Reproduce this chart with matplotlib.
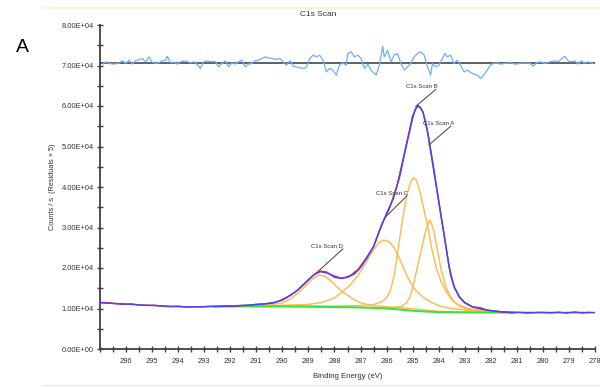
import matplotlib
matplotlib.use("Agg")
import matplotlib.pyplot as plt
from matplotlib.lines import Line2D
from matplotlib.ticker import MultipleLocator, FuncFormatter

plt.rcParams['font.family'] = ['Liberation Sans', 'DejaVu Sans']

# measured spectrum (red)
data_ev = [297.0, 296.7, 296.4, 296.1, 295.8, 295.5, 295.2, 294.9, 294.6, 294.3, 294.0,
           293.7, 293.4, 293.1, 292.8, 292.5, 292.2, 291.9, 291.6, 291.3, 291.0, 290.7,
           290.4, 290.1, 289.8, 289.5, 289.2, 288.9, 288.6, 288.3, 288.0, 287.7, 287.4,
           287.1, 286.8, 286.5, 286.2, 285.9, 285.6, 285.3, 285.0, 284.8, 284.6, 284.4,
           284.2, 284.0, 283.8, 283.6, 283.4, 283.2, 283.0, 282.7, 282.4, 282.1, 281.8,
           281.5, 281.2, 280.9, 280.6, 280.3, 280.0, 279.7, 279.4, 279.1, 278.8, 278.5, 278.2]
data_counts = [11500, 11450, 11200, 11000, 11150, 10850, 10750, 10800, 10550, 10450, 10600,
               10350, 10450, 10400, 10550, 10500, 10650, 10500, 10750, 10800, 11050, 11150,
               11300, 11900, 12900, 14100, 15800, 17700, 19300, 19000, 17700, 17400, 18100,
               19600, 22300, 25300, 30600, 34500, 40300, 48800, 57600, 60300, 58500, 52800,
               45000, 36600, 28400, 20200, 15300, 12900, 11500, 10400, 10200, 9500, 9300,
               9100, 8950, 9050, 8850, 9000, 9050, 8900, 9100, 8850, 9150, 8900, 9050]

# fit envelope (blue)
fit_ev = [297.0, 296.5, 296.0, 295.5, 295.0, 294.5, 294.0, 293.5, 293.0, 292.5, 292.0,
          291.5, 291.0, 290.6, 290.3, 290.0, 289.7, 289.4, 289.1, 288.8, 288.55, 288.3,
          288.0, 287.75, 287.5, 287.25, 287.0, 286.75, 286.5, 286.25, 286.0, 285.75, 285.5,
          285.25, 285.0, 284.9, 284.8, 284.7, 284.6, 284.45, 284.3, 284.15, 284.0, 283.85,
          283.7, 283.55, 283.4, 283.2, 283.0, 282.7, 282.4, 282.0, 281.6, 281.2, 280.5,
          279.5, 278.0]
fit_counts = [11400, 11250, 11100, 10900, 10750, 10600, 10450, 10400, 10450, 10500, 10600,
              10750, 10950, 11200, 11500, 12100, 13200, 14600, 16500, 18300, 19100, 18800,
              18000, 17500, 17700, 18500, 20100, 22500, 25300, 29500, 33500, 37000, 42500,
              50000, 57000, 59200, 59900, 59700, 58400, 54500, 48500, 42500, 36500, 30500,
              24500, 18500, 15200, 12700, 11400, 10400, 9900, 9500, 9200, 9050, 9000,
              9000, 9000]

# components (orange)
a_ev = [292.6, 290.0, 288.0, 286.5, 285.8, 285.45, 285.25, 285.1, 284.95, 284.8, 284.65,
        284.5, 284.34, 284.2, 284.05, 283.9, 283.75, 283.6, 283.4, 283.2, 283.0, 282.6,
        282.0, 281.1]
a_counts = [10550, 10550, 10450, 10250, 10200, 10500, 11300, 12900, 16400, 20800, 25000,
            29300, 31900, 29500, 24500, 19500, 15800, 13500, 11600, 10600, 10000, 9500,
            9200, 9000]

b_ev = [292.6, 290.0, 288.0, 287.0, 286.5, 286.2, 286.0, 285.85, 285.7, 285.55, 285.4,
        285.25, 285.1, 284.97, 284.85, 284.7, 284.55, 284.4, 284.25, 284.1, 283.9, 283.7,
        283.45, 283.2, 282.9, 282.5, 282.0, 281.1]
b_counts = [10600, 10600, 10600, 10750, 11000, 11600, 12600, 14500, 18500, 25000, 31500,
            37200, 40900, 42300, 41600, 38300, 34000, 29500, 24300, 20200, 16500, 14000,
            11800, 10800, 10100, 9600, 9200, 9000]

c_ev = [292.6, 291.0, 290.0, 289.0, 288.5, 288.0, 287.7, 287.4, 287.1, 286.8, 286.5,
        286.3, 286.1, 285.9, 285.7, 285.5, 285.3, 285.1, 284.9, 284.6, 284.3, 284.0,
        283.6, 283.0, 282.5, 282.0, 281.1]
c_counts = [10650, 10700, 10800, 11000, 11500, 12600, 14100, 15800, 18100, 21200, 24500,
            26200, 26900, 26500, 24900, 22300, 19300, 16600, 14600, 12800, 11600, 10700,
            10100, 9600, 9300, 9100, 9000]

d_ev = [292.6, 291.5, 291.0, 290.5, 290.0, 289.7, 289.4, 289.1, 288.85, 288.6, 288.35,
        288.1, 287.85, 287.6, 287.3, 287.0, 286.5, 286.0, 285.0, 284.0, 283.0, 282.0, 281.1]
d_counts = [10550, 10600, 10700, 10900, 11400, 12300, 13800, 15700, 17300, 18300, 17900,
            16600, 15000, 13700, 12400, 11400, 10700, 10450, 9950, 9300, 9100, 9000, 9000]

# Shirley background (green)
bg_ev = [292.6, 291.0, 290.0, 289.0, 288.0, 287.0, 286.5, 286.0, 285.5, 285.0, 284.5,
         284.0, 283.0, 282.0, 281.1]
bg_counts = [10500, 10500, 10500, 10450, 10350, 10250, 10150, 10000, 9750, 9450, 9250,
             9100, 9050, 9000, 9000]

# residuals x5, drawn offset at the zero line
resid_zero = 70500
resid_ev = [296.90, 296.77, 296.65, 296.45, 296.26, 296.14, 296.01, 295.88, 295.76, 295.63,
            295.50, 295.37, 295.25, 295.12, 294.99, 294.87, 294.74, 294.61, 294.48, 294.42,
            294.29, 294.16, 294.04, 293.91, 293.72, 293.53, 293.40, 293.27, 293.15, 293.02,
            292.89, 292.70, 292.58, 292.45, 292.32, 292.19, 292.06, 291.94, 291.81, 291.68,
            291.56, 291.43, 291.30, 291.18, 291.05, 290.92, 290.79, 290.67, 290.60, 290.41,
            290.22, 290.10, 289.97, 289.84, 289.71, 289.58, 289.39, 289.20, 289.08, 288.95,
            288.82, 288.69, 288.57, 288.44, 288.31, 288.19, 288.06, 287.93, 287.81, 287.68,
            287.55, 287.49, 287.36, 287.23, 287.10, 286.98, 286.85, 286.72, 286.60, 286.40,
            286.28, 286.15, 286.09, 285.96, 285.83, 285.71, 285.58, 285.45, 285.32, 285.19,
            285.07, 284.94, 284.81, 284.69, 284.56, 284.43, 284.31, 284.24, 284.11, 283.99,
            283.86, 283.76, 283.67, 283.54, 283.42, 283.29, 283.16, 283.03, 282.90, 282.71,
            282.52, 282.40, 282.27, 282.14, 282.02, 281.89, 281.76, 281.63, 281.44, 281.25,
            281.06, 280.87, 280.68, 280.49, 280.37, 280.24, 280.11, 279.92, 279.73, 279.53,
            279.41, 279.28, 279.15, 279.03, 278.90, 278.78, 278.65, 278.52, 278.40, 278.27,
            278.08]
resid_counts = [70336, 70910, 70500, 70336, 70664, 71156, 70500, 71320, 70336, 71156,
                71484, 71730, 70828, 72140, 70828, 70500, 70664, 71156, 71320, 72304,
                70664, 70828, 70336, 70910, 71156, 70664, 70910, 70336, 69270, 70910,
                71156, 70910, 70992, 69680, 70500, 71156, 69680, 70664, 70336, 70910,
                71320, 69680, 70336, 70500, 71156, 71320, 71730, 72140, 71976, 71730,
                71484, 71730, 70910, 70090, 71156, 69844, 69516, 69270, 69516, 71730,
                72550, 72140, 72550, 71320, 68450, 69270, 68860, 67630, 70090, 70664,
                70090, 72960, 73370, 72140, 72550, 71730, 69270, 70336, 68860, 67630,
                70090, 74764, 72140, 73780, 70910, 72550, 72960, 70500, 68860, 69680,
                70500, 72140, 72960, 73370, 72550, 69680, 67630, 70500, 69680, 70090,
                71730, 72960, 72140, 72550, 70500, 71320, 70090, 68450, 68860, 68040,
                67630, 66810, 67630, 68860, 70090, 70500, 70664, 70336, 70500, 70664,
                70336, 70500, 70664, 70500, 69844, 70664, 70910, 70500, 70910, 71156,
                70910, 71730, 72304, 71156, 70910, 71156, 70336, 71156, 70500, 70910,
                70500]

# peak labels: (text, text x, text y, leader start, leader end)
labels = [
    ("C1s Scan B", 285.26, 64900, (284.11, 64100), (284.88, 59900)),
    ("C1s Scan A", 284.62, 55700, (283.54, 55000), (284.37, 50400)),
    ("C1s Scan C", 286.40, 38300, (285.22, 37800), (286.09, 32300)),
    ("C1s Scan D", 288.89, 25300, (287.68, 24700), (288.57, 19500)),
]

fig = plt.figure(figsize=(6, 3.87), dpi=100)
ax = fig.add_axes([100 / 600, 1 - 349 / 387, 495 / 600, 324 / 387])

ax.axhline(resid_zero, color='#555555', lw=1.3, zorder=2)
ax.plot(resid_ev, resid_counts, color='#6ab0ff', lw=0.9, zorder=3)

orange = '#ffb84d'
for ev, cts in [(d_ev, d_counts), (c_ev, c_counts), (b_ev, b_counts), (a_ev, a_counts)]:
    ax.plot(ev, cts, color=orange, lw=1.0, zorder=2)
ax.plot(bg_ev, bg_counts, color='#33e633', lw=1.4, zorder=3)
ax.plot(data_ev, data_counts, color='#e8203c', lw=1.0, zorder=4)
ax.plot(fit_ev, fit_counts, color='#4646f5', lw=1.1, zorder=5)

for txt, tx, ty, p0, p1 in labels:
    ax.text(tx, ty, txt, fontsize=4.3, color='#333333', ha='left', va='center', zorder=6)
    ax.plot([p0[0], p1[0]], [p0[1], p1[1]], color='#555555', lw=0.8, zorder=6)

ax.set_xlim(297, 278)
ax.set_ylim(0, 80000)
ax.xaxis.set_major_locator(MultipleLocator(1))
ax.xaxis.set_minor_locator(MultipleLocator(0.5))
ax.yaxis.set_major_locator(MultipleLocator(10000))
ax.yaxis.set_minor_locator(MultipleLocator(5000))
ax.yaxis.set_major_formatter(FuncFormatter(lambda v, p: '{:.2E}'.format(v)))
ax.xaxis.set_major_formatter(FuncFormatter(lambda v, p: '' if v > 296.5 else '{:.0f}'.format(v)))

for side in ['top', 'right']:
    ax.spines[side].set_visible(False)
for side in ['left', 'bottom']:
    ax.spines[side].set_color('#404040')
    ax.spines[side].set_linewidth(1.3)

ax.tick_params(which='major', direction='inout', length=5, width=1, color='#404040',
               labelsize=5.4, labelcolor='#333333', pad=2)
ax.tick_params(which='minor', direction='inout', length=4, width=1, color='#404040')
ax.tick_params(axis='x', which='major', pad=4)

ax.set_xlabel('Binding Energy (eV)', fontsize=5.6, color='#333333', labelpad=6)
ax.set_ylabel('Counts / s  (Residuals × 5)', fontsize=5.3, color='#333333', labelpad=4)

fig.text(318.5 / 600, 1 - 15 / 387, 'C1s Scan', fontsize=6, color='#333333',
         ha='center', va='center')
fig.text(22 / 600, 1 - 48 / 387, 'A', fontsize=14, color='black', ha='center', va='center')

fig.add_artist(Line2D([43 / 600, 1], [1 - 8 / 387, 1 - 8 / 387], color='#f7f3c8', lw=1.2))
fig.add_artist(Line2D([43 / 600, 1], [1 - 385 / 387, 1 - 385 / 387], color='#ececec', lw=1.0))

fig.savefig('out.png', dpi=100)
